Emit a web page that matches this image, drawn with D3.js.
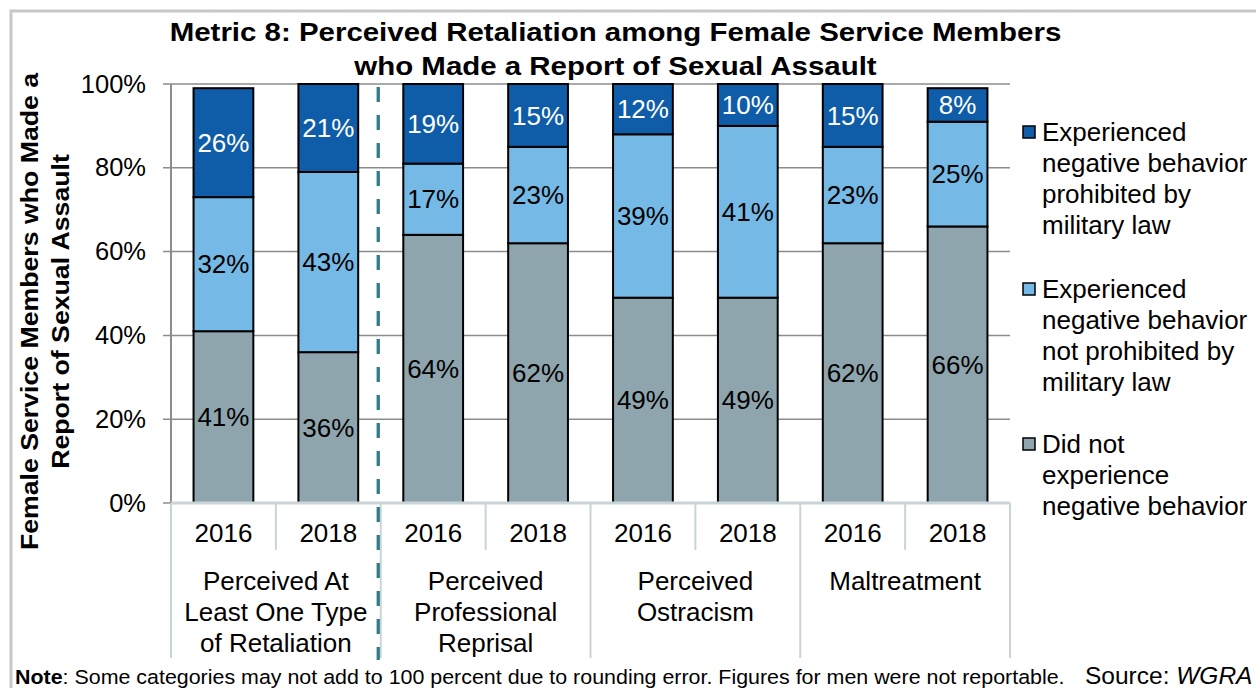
<!DOCTYPE html>
<html><head><meta charset="utf-8">
<script src="https://cdn.jsdelivr.net/npm/d3@7"></script>
<style>html,body{margin:0;padding:0;background:#fff;}svg{display:block;font-family:"Liberation Sans",Arial,sans-serif;}</style>
</head><body>
<svg id="chart" width="1256" height="688"></svg>
<script>
// ---- data ----
const titleLines = ["Metric 8: Perceived Retaliation among Female Service Members", "who Made a Report of Sexual Assault"];
const yTitleLines = ["Female Service Members who Made a", "Report of Sexual Assault"];
const groupLabels = [["Perceived At","Least One Type","of Retaliation"],["Perceived","Professional","Reprisal"],["Perceived","Ostracism"],["Maltreatment"]];
const years = ["2016","2018","2016","2018","2016","2018","2016","2018"];
const didNot = [41,36,64,62,49,49,62,66];
const notProhibited = [32,43,17,23,39,41,23,25];
const prohibited = [26,21,19,15,12,10,15,8];
const yTicks = [0,20,40,60,80,100];
const seriesNames = ["Did not experience negative behavior","Experienced negative behavior not prohibited by military law","Experienced negative behavior prohibited by military law"];
const legendLines = [["Experienced","negative behavior","prohibited by","military law"],["Experienced","negative behavior","not prohibited by","military law"],["Did not","experience","negative behavior"]];
const colors = ["#8EA5AE","#75BAE6","#0F5DA8"];
const noteText = ": Some categories may not add to 100 percent due to rounding error. Figures for men were not reportable.";

// ---- layout ----
const svg = d3.select("#chart");
const L = 171, R = 1010, T = 84, B = 503;
const FS = 26;
const rows = years.map((y,i)=>({i, year:y, didNot:didNot[i], notProhibited:notProhibited[i], prohibited:prohibited[i]}));
const keys = ["didNot","notProhibited","prohibited"];
const stack = d3.stack().keys(keys)(rows);

const x = d3.scaleBand().domain(d3.range(years.length)).range([L,R]).paddingInner(0.43).paddingOuter(0.215);
const y = d3.scaleLinear().domain([0,100]).range([B,T]);
const step = x.step();

// outer border
svg.append("rect").attr("x",11).attr("y",11).attr("width",1300).attr("height",700)
  .attr("fill","none").attr("stroke","#c8c8c8").attr("stroke-width",3);

// title (bold text is horizontally wider in the reference)
svg.append("g").selectAll("text").data(titleLines).join("text")
  .attr("transform",(d,i)=>`translate(615.5,${41+i*34}) scale(1.155,1)`)
  .attr("text-anchor","middle").attr("font-size",25.5).attr("font-weight","bold").attr("fill","#000")
  .text(d=>d);

// gridlines
svg.append("g").selectAll("line").data(yTicks).join("line")
  .attr("x1",L-8).attr("x2",R).attr("y1",d=>y(d)).attr("y2",d=>y(d))
  .attr("stroke","#8c8c8c").attr("stroke-width",1.5);

// y axis
const yAxis = d3.axisLeft(y).tickValues(yTicks).tickFormat(d=>d+"%").tickSize(0).tickPadding(25);
const gy = svg.append("g").attr("transform",`translate(${L},0)`).call(yAxis);
gy.select(".domain").remove();
gy.selectAll("text").attr("font-size",25.5).attr("fill","#000").attr("font-family","Liberation Sans, Arial, sans-serif");
svg.append("line").attr("x1",L).attr("x2",L).attr("y1",T).attr("y2",B).attr("stroke","#8c8c8c").attr("stroke-width",2);

// y title
svg.append("g").selectAll("text").data(yTitleLines).join("text")
  .attr("transform",(d,i)=>`translate(${37.5+i*31.5},311.5) rotate(-90) scale(1.16,1)`)
  .attr("text-anchor","middle").attr("font-size",23).attr("font-weight","bold").attr("fill","#000")
  .text(d=>d);

// bars
const segs = svg.append("g").selectAll("g").data(stack).join("g").attr("fill",(d,i)=>colors[i]);
segs.selectAll("rect").data(d=>d).join("rect")
  .attr("x",d=>x(d.data.i)).attr("width",x.bandwidth())
  .attr("y",d=>y(d[1])).attr("height",d=>y(d[0])-y(d[1]))
  .attr("stroke","#000").attr("stroke-width",2);

// labels
const lab = svg.append("g");
stack.forEach((s,si)=>{
  lab.selectAll(null).data(s).join("text")
    .attr("x",d=>x(d.data.i)+x.bandwidth()/2).attr("y",d=>y((d[0]+d[1])/2))
    .attr("dy","0.35em").attr("text-anchor","middle").attr("font-size",FS)
    .attr("fill",si===2?"#fff":"#000").text(d=>(d[1]-d[0])+"%");
});

// category axis
svg.append("line").attr("x1",L).attr("x2",R).attr("y1",B).attr("y2",B).attr("stroke","#c9d4d9").attr("stroke-width",3);
svg.append("g").selectAll("line").data(d3.range(years.length+1)).join("line")
  .attr("x1",d=>L+d*step).attr("x2",d=>L+d*step).attr("y1",B).attr("y2",d=>d%2===0?658:550)
  .attr("stroke","#c9d4d9").attr("stroke-width",2);
svg.append("g").selectAll("text").data(rows).join("text")
  .attr("x",d=>x(d.i)+x.bandwidth()/2).attr("y",542).attr("text-anchor","middle")
  .attr("font-size",FS).attr("fill","#000").text(d=>d.year);
const gl = svg.append("g").selectAll("text").data(groupLabels).join("text")
  .attr("text-anchor","middle").attr("font-size",FS).attr("fill","#000");
gl.selectAll("tspan").data((d,gi)=>d.map(t=>({t,gi}))).join("tspan")
  .attr("x",d=>L+(d.gi*2+1)*step).attr("y",(d,i)=>590+i*31).text(d=>d.t);

// dashed separator
svg.append("line").attr("x1",L+2*step-2.5).attr("x2",L+2*step-2.5).attr("y1",T+3).attr("y2",660)
  .attr("stroke","#2F7D89").attr("stroke-width",3.3).attr("stroke-dasharray","15,13");

// legend
const legendY = [132,289,444];
const lg = svg.append("g");
[2,1,0].forEach((si,k)=>{
  lg.append("rect").attr("x",1023).attr("y",legendY[k]-6).attr("width",12).attr("height",12)
    .attr("fill",colors[si]).attr("stroke","#000").attr("stroke-width",1.5);
  lg.append("text").attr("font-size",FS).attr("fill","#000")
    .selectAll("tspan").data(legendLines[k]).join("tspan")
    .attr("x",1042).attr("y",(d,i)=>legendY[k]+9+i*31).text(d=>d);
});

// note
const nt = svg.append("text").attr("transform","translate(15,684) scale(1.11,1)").attr("font-size",19.3).attr("fill","#000");
nt.append("tspan").attr("font-weight","bold").text("Note");
nt.append("tspan").text(noteText);
const st = svg.append("text").attr("x",1085).attr("y",684).attr("font-size",24.5).attr("fill","#000");
st.append("tspan").text("Source: ");
st.append("tspan").attr("font-style","italic").text("WGRA");
</script>
</body></html>
